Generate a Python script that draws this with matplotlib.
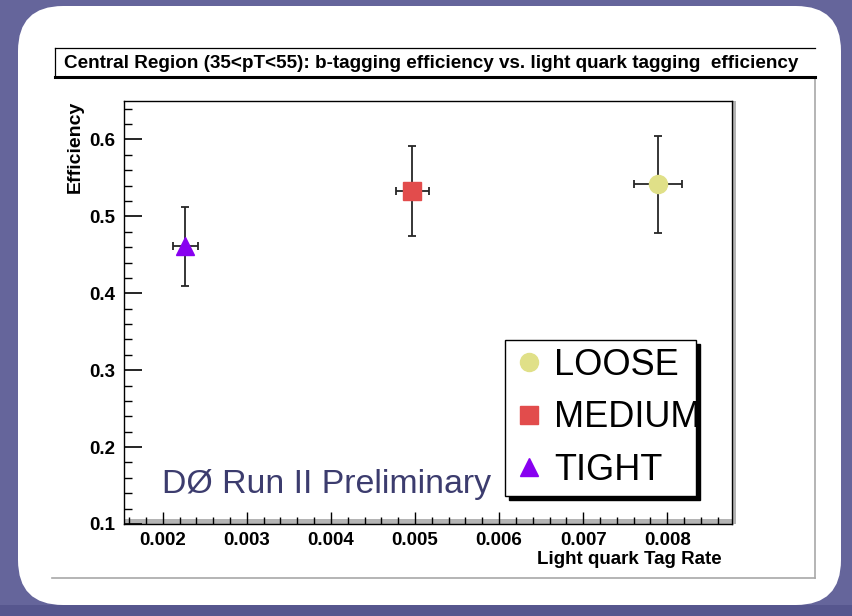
import matplotlib
matplotlib.use('Agg')
import matplotlib.pyplot as plt
from matplotlib.patches import FancyBboxPatch, Rectangle
from matplotlib.lines import Line2D
from matplotlib.transforms import IdentityTransform
from matplotlib.ticker import MultipleLocator, FixedLocator

# ---------------- data ----------------
categories = ['LOOSE', 'MEDIUM', 'TIGHT']
light_rate = [0.00789, 0.00497, 0.00227]
light_rate_err = [0.00028, 0.00020, 0.00015]
efficiency = [0.542, 0.533, 0.461]
efficiency_err = [0.063, 0.059, 0.051]
markers = ['o', 's', '^']
colors = ['#e0e088', '#e24c4c', '#8800f0']
x_ticks = [0.002, 0.003, 0.004, 0.005, 0.006, 0.007, 0.008]
y_ticks = [0.1, 0.2, 0.3, 0.4, 0.5, 0.6]
title = 'Central Region (35<pT<55): b-tagging efficiency vs. light quark tagging  efficiency'
xlabel = 'Light quark Tag Rate'
ylabel = 'Efficiency'
watermark = 'D\u00d8 Run II Preliminary'

W, H = 852, 616
plt.rcParams['font.family'] = ['Liberation Sans', 'DejaVu Sans']

fig = plt.figure(figsize=(W / 100, H / 100), dpi=100, facecolor='#65659b')

# background panel
ident = IdentityTransform()
fig.add_artist(Rectangle((0, 0), W, 11, transform=ident, facecolor='#56568e',
                         edgecolor='none', zorder=0))
fig.add_artist(FancyBboxPatch((18 + 45, 11 + 45), 823 - 90, 599 - 90,
                              boxstyle='round,pad=45', transform=ident,
                              facecolor='white', edgecolor='none', zorder=0))

# pad border lines (gray)
fig.add_artist(Line2D([52, 815], [H - 578, H - 578], transform=ident, color='#a8a8a8', lw=1.2))
fig.add_artist(Line2D([815, 815], [H - 578, H - 78], transform=ident, color='#a8a8a8', lw=1.2))

# title box
fig.add_artist(Line2D([55, 815], [H - 48, H - 48], transform=ident, color='black', lw=0.9))
fig.add_artist(Line2D([55, 55], [H - 48, H - 77], transform=ident, color='black', lw=0.9))
fig.add_artist(Line2D([55, 815], [H - 76.5, H - 76.5], transform=ident, color='black', lw=2.2))
fig.text(431.5 / W, 1 - 63 / H, title, ha='center', va='center', fontsize=13.6,
         fontweight='bold', color='black')

# axes
left, right, top, bottom = 124, 732, 101, 524
ax = fig.add_axes([left / W, 1 - bottom / H, (right - left) / W, (bottom - top) / H])
ax.set_facecolor('white')

for cat, x, xe, y, ye, m, c in zip(categories, light_rate, light_rate_err,
                                    efficiency, efficiency_err, markers, colors):
    ax.errorbar(x, y, xerr=xe, yerr=ye, fmt=m, color=c, ms=13, mec=c,
                ecolor='#262626', elinewidth=1.3, capsize=3, capthick=1.3, zorder=3)

ax.set_xlim(0.00154, 0.00877)
ax.set_ylim(0.1, 0.65)
ax.xaxis.set_major_locator(FixedLocator(x_ticks))
ax.xaxis.set_minor_locator(MultipleLocator(0.0002))
ax.yaxis.set_major_locator(FixedLocator(y_ticks))
ax.yaxis.set_minor_locator(MultipleLocator(0.02))
ax.set_xticklabels([f'{v:.3f}' for v in x_ticks])
ax.set_yticklabels([f'{v:.1f}' for v in y_ticks])

ax.tick_params(axis='both', which='both', direction='in', top=False, right=False,
               color='black', labelsize=13.5)
ax.tick_params(axis='y', which='major', length=13, width=1.2, pad=6)
ax.tick_params(axis='y', which='minor', length=6, width=1.0)
ax.tick_params(axis='x', which='major', length=9, width=1.0, pad=6)
ax.tick_params(axis='x', which='minor', length=5, width=1.0)
for lab in ax.get_xticklabels() + ax.get_yticklabels():
    lab.set_fontweight('bold')

for s in ax.spines.values():
    s.set_linewidth(1.0)
    s.set_color('black')

# frame shading (ROOT style)
ax.add_patch(Rectangle((0, 0), 1, 5 / 423, transform=ax.transAxes, facecolor='#b4b4b4',
                       edgecolor='none', zorder=1))
ax.add_patch(Rectangle((1, 0), 4 / 608, 1, transform=ax.transAxes, facecolor='#b4b4b4',
                       edgecolor='none', zorder=1, clip_on=False))

ax.set_xlabel(xlabel, fontsize=13.5, fontweight='bold', loc='right')
ax.xaxis.set_label_coords((722 - left) / 608, -0.065)
ax.xaxis.label.set_ha('right')
ax.set_ylabel(ylabel, fontsize=14, fontweight='bold', loc='top')
ax.yaxis.set_label_coords((84 - left) / 608, 1.0)

ax.text((162 - left) / 608, (bottom - 493) / 423, watermark, transform=ax.transAxes,
        fontsize=24.4, color='#3c3c6e', ha='left', va='baseline', zorder=2)

handles = [Line2D([], [], marker=m, color=c, mec=c, ls='none', ms=13)
           for m, c in zip(markers, colors)]
leg_x0 = (505 - left) / 608
leg_w = (696 - 505) / 608
leg_top = (bottom - 340) / 423
leg_h = (498 - 340) / 423
leg = ax.legend(handles, categories, loc='upper left', mode='expand',
                bbox_to_anchor=(leg_x0, leg_top - leg_h, leg_w, leg_h),
                fontsize=26, frameon=True, fancybox=False, framealpha=1,
                edgecolor='black', borderpad=0.21, labelspacing=0.49,
                handletextpad=0.25, handlelength=0.9, borderaxespad=0,
                shadow={'ox': 3.2, 'oy': -3.2, 'facecolor': 'black', 'edgecolor': 'black', 'alpha': 1})
leg.get_frame().set_linewidth(1.0)

fig.savefig('out.png', dpi=100, facecolor=fig.get_facecolor())
